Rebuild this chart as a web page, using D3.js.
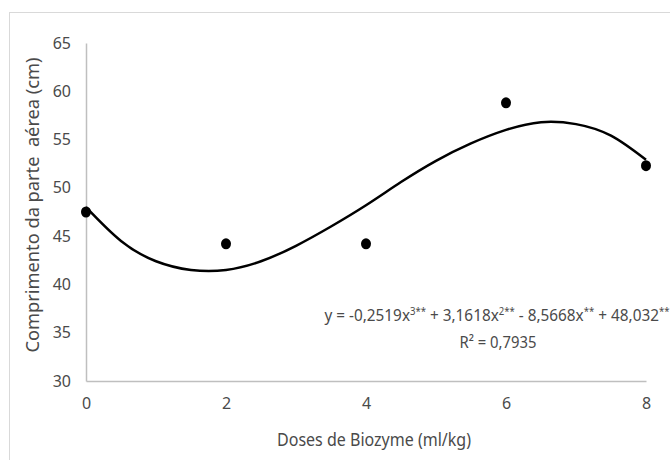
<!DOCTYPE html>
<html>
<head>
<meta charset="utf-8">
<script src="https://cdn.jsdelivr.net/npm/d3@7"></script>
<style>
  body { margin: 0; background: #fff; }
  text { font-family: "Noto Sans", sans-serif; fill: #4a4a4a; }
</style>
</head>
<body>
<svg width="670" height="460"></svg>
<script>
// observed points
const doses = [0, 2, 4, 6, 8];
const comprimento = [47.5, 44.2, 44.2, 58.8, 52.3];

// trend line
const trendX = [0, 0.5, 1, 1.5, 2, 2.5, 3, 3.5, 4, 4.5, 5, 5.5, 6, 6.5, 7, 7.5, 8];
const trendY = [48.0, 44.5, 42.4, 41.5, 41.5, 42.4, 44.0, 46.0, 48.2, 50.6, 52.8, 54.6, 56.0, 56.8, 56.6, 55.4, 52.9];

const xTicks = [0, 2, 4, 6, 8];
const yTicks = [30, 35, 40, 45, 50, 55, 60, 65];

const svg = d3.select('svg');

// outer chart frame
svg.append('rect')
  .attr('x', 9.5).attr('y', 12.5)
  .attr('width', 700).attr('height', 500)
  .attr('fill', 'none')
  .attr('stroke', '#d9d9d9');

const x = d3.scaleLinear().domain([0, 8]).range([86, 646]);
const y = d3.scaleLinear().domain([30, 65]).range([381, 43]);

// axes
svg.append('g')
  .attr('transform', `translate(0,${y(30)})`)
  .call(d3.axisBottom(x).tickValues(xTicks).tickSize(0).tickPadding(17))
  .call(g => g.select('.domain').attr('stroke', '#bfbfbf').attr('stroke-width', 1.5))
  .call(g => g.selectAll('text').attr('font-size', 16).attr('fill', '#4a4a4a')
    .style('font-family', '"Noto Sans", sans-serif'));

svg.append('g')
  .attr('transform', `translate(${x(0)},0)`)
  .call(d3.axisLeft(y).tickValues(yTicks).tickSize(0).tickPadding(15))
  .call(g => g.select('.domain').attr('stroke', '#bfbfbf').attr('stroke-width', 1.5))
  .call(g => g.selectAll('text').attr('font-size', 16).attr('fill', '#4a4a4a')
    .style('font-family', '"Noto Sans", sans-serif'));

// trend curve
const line = d3.line()
  .x((d, i) => x(trendX[i]))
  .y(d => y(d))
  .curve(d3.curveNatural);

svg.append('path')
  .datum(trendY)
  .attr('d', line)
  .attr('fill', 'none')
  .attr('stroke', '#000')
  .attr('stroke-width', 2.5);

// points
svg.selectAll('.pt')
  .data(doses)
  .enter().append('ellipse')
  .attr('class', 'pt')
  .attr('cx', d => x(d))
  .attr('cy', (d, i) => y(comprimento[i]))
  .attr('rx', 5).attr('ry', 5.5)
  .attr('fill', '#000');

// axis titles
svg.append('text')
  .attr('x', 374).attr('y', 446)
  .attr('text-anchor', 'middle')
  .attr('font-size', 18)
  .attr('textLength', 194).attr('lengthAdjust', 'spacingAndGlyphs')
  .text('Doses de Biozyme (ml/kg)');

svg.append('text')
  .attr('transform', 'translate(39,205) rotate(-90)')
  .attr('text-anchor', 'middle')
  .attr('font-size', 18)
  .attr('textLength', 295).attr('lengthAdjust', 'spacingAndGlyphs')
  .style('white-space', 'pre')
  .text('Comprimento da parte  aérea (cm)');

// regression label
const eq = svg.append('text')
  .attr('x', 497).attr('y', 321)
  .attr('text-anchor', 'middle')
  .attr('font-size', 16)
  .attr('textLength', 345).attr('lengthAdjust', 'spacingAndGlyphs');
const parts = [
  ['y = -0,2519x', false], ['3**', true], [' + 3,1618x', false], ['2**', true],
  [' - 8,5668x', false], ['**', true], [' + 48,032', false], ['**', true]
];
parts.forEach(([t, sup], i) => {
  const ts = eq.append('tspan').text(t);
  if (sup) ts.attr('font-size', 10).attr('dy', -6);
  else if (i > 0) ts.attr('dy', 6);
});

svg.append('text')
  .attr('x', 498).attr('y', 348)
  .attr('text-anchor', 'middle')
  .attr('font-size', 16)
  .attr('textLength', 77).attr('lengthAdjust', 'spacingAndGlyphs')
  .text('R² = 0,7935');
</script>
</body>
</html>
